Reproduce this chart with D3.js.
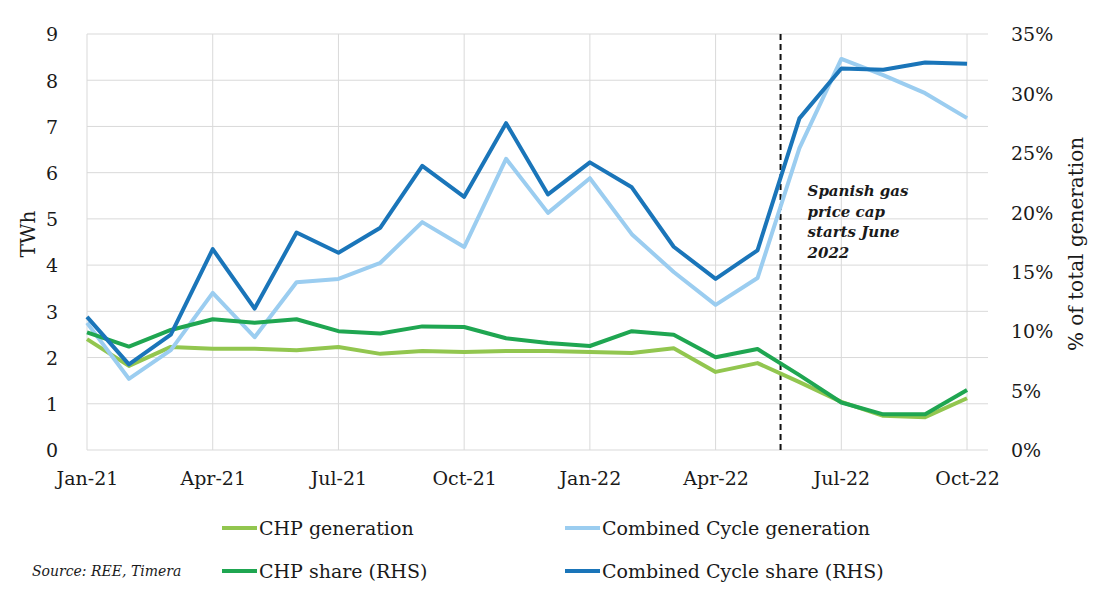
<!DOCTYPE html>
<html>
<head>
<meta charset="utf-8">
<script src="https://cdn.jsdelivr.net/npm/d3@7"></script>
<style>
  body { margin: 0; background: #fff; }
  text { font-family: "DejaVu Serif", "Liberation Serif", serif; fill: #1a1a1a; }
</style>
</head>
<body>
<div id="chart"></div>
<script>
var width = 1108,
    height = 594;

var months = ["Jan-21","Feb-21","Mar-21","Apr-21","May-21","Jun-21","Jul-21","Aug-21","Sep-21","Oct-21","Nov-21","Dec-21",
              "Jan-22","Feb-22","Mar-22","Apr-22","May-22","Jun-22","Jul-22","Aug-22","Sep-22","Oct-22"];
var tickMonths = ["Jan-21","Apr-21","Jul-21","Oct-21","Jan-22","Apr-22","Jul-22","Oct-22"];

// TWh (left axis)
var chpGen = [2.40,1.82,2.23,2.19,2.19,2.16,2.23,2.08,2.14,2.12,2.14,2.14,2.12,2.10,2.20,1.69,1.88,1.47,1.04,0.74,0.71,1.12];
var ccGen  = [2.75,1.54,2.16,3.40,2.44,3.63,3.70,4.05,4.93,4.39,6.30,5.13,5.88,4.67,3.85,3.14,3.72,6.53,8.46,8.11,7.72,7.18];
// % of total generation (right axis)
var chpShare = [9.9,8.7,10.1,11.0,10.7,11.0,10.0,9.8,10.4,10.35,9.4,9.0,8.75,10.0,9.7,7.8,8.5,6.3,4.0,3.0,3.0,5.05];
var ccShare  = [11.2,7.2,9.7,16.9,11.9,18.3,16.6,18.7,23.9,21.3,27.5,21.5,24.2,22.1,17.1,14.4,16.8,27.9,32.1,32.0,32.6,32.5];

var leftTicks = [0,1,2,3,4,5,6,7,8,9];
var rightTicks = [0,5,10,15,20,25,30,35];
var capPosition = 16.55; // price cap marker, in month index units
var capLabel = ["Spanish gas", "price cap", "starts June", "2022"];

var series = [
  { name: "CHP generation", values: chpGen, axis: "left", color: "#92c64f" },
  { name: "Combined Cycle generation", values: ccGen, axis: "left", color: "#9bcdf0" },
  { name: "CHP share (RHS)", values: chpShare, axis: "right", color: "#1fa651" },
  { name: "Combined Cycle share (RHS)", values: ccShare, axis: "right", color: "#1a75b9" }
];

var margin = { top: 34, left: 87, bottom: 144, right: 120 };
var plotW = width - margin.left - margin.right,
    plotH = height - margin.top - margin.bottom;

var x = d3.scaleLinear()
    .domain([0, months.length - 0.5])
    .range([0, plotW]);
var yL = d3.scaleLinear().domain([0, 9]).range([plotH, 0]);
var yR = d3.scaleLinear().domain([0, 35]).range([plotH, 0]);

var svg = d3.select("#chart").append("svg")
    .attr("width", width)
    .attr("height", height);

var g = svg.append("g")
    .attr("transform", "translate(" + margin.left + "," + margin.top + ")");

// gridlines
g.selectAll("line.hgrid")
    .data(leftTicks)
  .enter().append("line")
    .attr("class", "hgrid")
    .attr("x1", 0).attr("x2", plotW)
    .attr("y1", function(d) { return yL(d); })
    .attr("y2", function(d) { return yL(d); })
    .attr("stroke", "#d9d9d9").attr("stroke-width", 1);

g.selectAll("line.vgrid")
    .data(tickMonths)
  .enter().append("line")
    .attr("class", "vgrid")
    .attr("x1", function(d) { return x(months.indexOf(d)); })
    .attr("x2", function(d) { return x(months.indexOf(d)); })
    .attr("y1", 0).attr("y2", plotH)
    .attr("stroke", "#d9d9d9").attr("stroke-width", 1);

// axes
var leftAxis = d3.axisLeft(yL).tickValues(leftTicks).tickSize(0).tickPadding(29);
var gl = g.append("g").call(leftAxis);
gl.select(".domain").remove();
gl.selectAll("text").style("font-size", "19px").attr("dy", "0.36em");

var rightAxis = d3.axisRight(yR).tickValues(rightTicks).tickSize(0).tickPadding(23)
    .tickFormat(function(d) { return d + "%"; });
var gr = g.append("g").attr("transform", "translate(" + plotW + ",0)").call(rightAxis);
gr.select(".domain").remove();
gr.selectAll("text").style("font-size", "19px").attr("dy", "0.36em");

var bottomAxis = d3.axisBottom(x)
    .tickValues(tickMonths.map(function(d) { return months.indexOf(d); }))
    .tickFormat(function(i) { return months[i]; })
    .tickSize(0).tickPadding(22);
var gb = g.append("g").attr("transform", "translate(0," + plotH + ")").call(bottomAxis);
gb.select(".domain").remove();
gb.selectAll("text").style("font-size", "19px");

// axis titles
svg.append("text")
    .attr("transform", "translate(35," + (margin.top + plotH / 2 - 8) + ")rotate(-90)")
    .attr("text-anchor", "middle")
    .style("font-size", "20px")
    .text("TWh");

svg.append("text")
    .attr("transform", "translate(1083," + (margin.top + plotH / 2 + 2) + ")rotate(-90)")
    .attr("text-anchor", "middle")
    .style("font-size", "20px")
    .text("% of total generation");

// price cap marker
g.append("line")
    .attr("x1", x(capPosition)).attr("x2", x(capPosition))
    .attr("y1", yL(9)).attr("y2", plotH)
    .attr("stroke", "#111").attr("stroke-width", 2)
    .attr("stroke-dasharray", "6,4");

// lines
series.forEach(function(s) {
  var yScale = s.axis === "left" ? yL : yR;
  var line = d3.line()
      .x(function(d, i) { return x(i); })
      .y(function(d) { return yScale(d); });
  g.append("path")
      .datum(s.values)
      .attr("fill", "none")
      .attr("stroke", s.color)
      .attr("stroke-width", 4)
      .attr("stroke-linejoin", "round")
      .attr("d", line);
});

// annotation
g.append("text")
    .attr("x", x(capPosition) + 27)
    .attr("y", 162)
    .style("font-size", "15px")
    .style("font-style", "italic")
    .style("font-weight", "bold")
    .selectAll("tspan")
    .data(capLabel)
  .enter().append("tspan")
    .attr("x", x(capPosition) + 27)
    .attr("dy", function(d, i) { return i === 0 ? 0 : 20.5; })
    .text(function(d) { return d; });

// legend
var legendPos = [[222, 528], [565, 528], [222, 571], [565, 571]];
series.forEach(function(s, i) {
  var lg = svg.append("g").attr("transform", "translate(" + legendPos[i][0] + "," + legendPos[i][1] + ")");
  lg.append("line")
      .attr("x1", 0).attr("x2", 35)
      .attr("y1", 0).attr("y2", 0)
      .attr("stroke", s.color).attr("stroke-width", 4);
  lg.append("text")
      .attr("x", 37).attr("dy", "0.35em")
      .style("font-size", "19px")
      .text(s.name);
});

svg.append("text")
    .attr("x", 32).attr("y", 571).attr("dy", "0.35em")
    .style("font-size", "14px")
    .style("font-style", "italic")
    .text("Source: REE, Timera");
</script>
</body>
</html>
